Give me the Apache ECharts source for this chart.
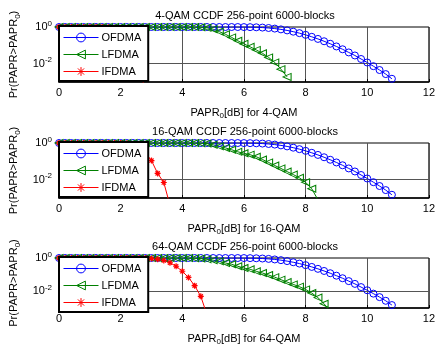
<!DOCTYPE html>
<html><head><meta charset="utf-8">
<script src="https://cdn.jsdelivr.net/npm/echarts@6/dist/echarts.min.js"></script>
<style>html,body{margin:0;padding:0;background:#fff}#c{width:438px;height:347px}</style>
</head><body><div id="c"></div>
<script>
// ---------- data ----------
const seriesNames = ['OFDMA', 'LFDMA', 'IFDMA'];
const panelTitles = ['4-QAM CCDF 256-point 6000-blocks', '16-QAM CCDF 256-point 6000-blocks', '64-QAM CCDF 256-point 6000-blocks'];
const modulations = ['4-QAM', '16-QAM', '64-QAM'];
const xTickValues = [0, 2, 4, 6, 8, 10, 12];
const yTickValues = [1, 0.01];

// OFDMA (same in all three panels)
const ofdmaX = [0,0.2,0.4,0.6,0.8,1,1.2,1.4,1.6,1.8,2,2.2,2.4,2.6,2.8,3,3.2,3.4,3.6,3.8,4,4.2,4.4,4.6,4.8,5,5.2,5.4,5.6,5.8,6,6.2,6.4,6.6,6.8,7,7.2,7.4,7.6,7.8,8,8.2,8.4,8.6,8.8,9,9.2,9.4,9.6,9.8,10,10.2,10.4,10.6,10.8];
const ofdmaY = [1,1,1,1,1,1,1,1,1,1,1,1,1,1,1,1,1,1,1,1,1,1,1,1,1,1,1,1,0.999,0.997,0.992,0.981,0.962,0.93,0.883,0.819,0.741,0.651,0.556,0.462,0.373,0.292,0.224,0.167,0.122,0.087,0.061,0.041,0.028,0.018,0.0116,0.0073,0.0045,0.0027,0.0015];

// LFDMA
const lfdma4X = [0,0.2,0.4,0.6,0.8,1,1.2,1.4,1.6,1.8,2,2.2,2.4,2.6,2.8,3,3.2,3.4,3.6,3.8,4,4.2,4.4,4.6,4.8,5,5.2,5.4,5.6,5.8,6,6.2,6.4,6.6,6.8,7,7.2,7.4];
const lfdma4Y = [1,1,1,1,1,1,1,1,1,1,1,1,1,1,1,1,1,1,1,1,1,1,1,0.97,0.9,0.76,0.56,0.4,0.27,0.178,0.12,0.083,0.056,0.037,0.022,0.0117,0.005,0.0019];
const lfdma16X = [0,0.2,0.4,0.6,0.8,1,1.2,1.4,1.6,1.8,2,2.2,2.4,2.6,2.8,3,3.2,3.4,3.6,3.8,4,4.2,4.4,4.6,4.8,5,5.2,5.4,5.6,5.8,6,6.2,6.4,6.6,6.8,7,7.2,7.4,7.6,7.8,8,8.2,8.4];
const lfdma16Y = [1,1,1,1,1,1,1,1,1,1,1,1,1,1,1,1,1,1,1,1,1,1,1,0.98,0.94,0.8,0.66,0.54,0.43,0.33,0.275,0.23,0.178,0.126,0.087,0.059,0.041,0.0275,0.019,0.0126,0.0072,0.0032,0.0008];
const lfdma64X = [0,0.2,0.4,0.6,0.8,1,1.2,1.4,1.6,1.8,2,2.2,2.4,2.6,2.8,3,3.2,3.4,3.6,3.8,4,4.2,4.4,4.6,4.8,5,5.2,5.4,5.6,5.8,6,6.2,6.4,6.6,6.8,7,7.2,7.4,7.6,7.8,8,8.2,8.4,8.6,8.8];
const lfdma64Y = [1,1,1,1,1,1,1,1,1,1,1,1,1,1,1,1,1,1,1,1,1,1,0.97,0.93,0.83,0.74,0.63,0.5,0.42,0.32,0.25,0.21,0.158,0.126,0.095,0.071,0.05,0.036,0.026,0.019,0.013,0.0079,0.0042,0.0018,0.0006];

// IFDMA
const ifdma4X = [0,0.2,0.4,0.6,0.8,1,1.2,1.4,1.6,1.8,2,2.2,2.4,2.6,2.8];
const ifdma4Y = [1,1,1,1,1,1,1,1,0.98,0.9,0.6,0.25,0.05,0.005,0.0004];
const ifdma16X = [0,0.2,0.4,0.6,0.8,1,1.2,1.4,1.6,1.8,2,2.2,2.4,2.6,2.8,3,3.2,3.4,3.6];
const ifdma16Y = [1,1,1,1,1,1,1,1,1,1,1,0.97,0.85,0.6,0.3,0.11,0.022,0.007,0.0004];
const ifdma64X = [0,0.2,0.4,0.6,0.8,1,1.2,1.4,1.6,1.8,2,2.2,2.4,2.6,2.8,3,3.2,3.4,3.6,3.8,4,4.2,4.4,4.6,4.8];
const ifdma64Y = [1,1,1,1,1,1,1,1,1,1,1,1,1,1,1,0.93,0.83,0.71,0.52,0.32,0.16,0.068,0.022,0.005,0.0004];

// ---------- build ----------
const FONT = '"Liberation Sans", Arial, Helvetica, sans-serif';
const LEFT = 59, RIGHT = 7, HEIGHT = 55;
const tops = [27, 143, 258];
const colors = { OFDMA: '#0000ff', LFDMA: '#008000', IFDMA: '#ff0000' };
const STAR = 'path://M-10,0L10,0M0,-10L0,10M-7,-7L7,7M-7,7L7,-7';

function zip(xs, ys) { return xs.map((x, i) => [x, ys[i]]); }

const panelData = [
  [zip(ofdmaX, ofdmaY), zip(lfdma4X, lfdma4Y), zip(ifdma4X, ifdma4Y)],
  [zip(ofdmaX, ofdmaY), zip(lfdma16X, lfdma16Y), zip(ifdma16X, ifdma16Y)],
  [zip(ofdmaX, ofdmaY), zip(lfdma64X, lfdma64Y), zip(ifdma64X, ifdma64Y)]
];

const rich = {
  b: { fontSize: 11, color: '#000', fontFamily: FONT },
  sup: { fontSize: 8, color: '#000', fontFamily: FONT, padding: [0, 0, 7, 0] },
  sub: { fontSize: 8, color: '#000', fontFamily: FONT, padding: [7, 0, 0, 0] }
};

const series = [];
panelData.forEach((pd, i) => {
  series.push({
    name: 'OFDMA', type: 'line', xAxisIndex: i, yAxisIndex: i, data: pd[0],
    symbol: 'circle', symbolSize: 7,
    lineStyle: { color: colors.OFDMA, width: 1 },
    itemStyle: { color: 'rgba(0,0,0,0)', borderColor: colors.OFDMA, borderWidth: 1 },
    emphasis: { disabled: true }, z: 3,
    markLine: {
      silent: true, symbol: 'none', z: 1, animation: false,
      label: { show: false },
      lineStyle: { color: '#555', width: 1, type: 'solid' },
      data: [{ yAxis: 0.01 }]
    }
  });
  series.push({
    name: 'LFDMA', type: 'line', xAxisIndex: i, yAxisIndex: i, data: pd[1],
    symbol: 'triangle', symbolSize: [7, 8], symbolRotate: 90,
    lineStyle: { color: colors.LFDMA, width: 1 },
    itemStyle: { color: 'rgba(0,0,0,0)', borderColor: colors.LFDMA, borderWidth: 1 },
    emphasis: { disabled: true }, z: 3
  });
  series.push({
    name: 'IFDMA', type: 'line', xAxisIndex: i, yAxisIndex: i, data: pd[2],
    symbol: STAR, symbolSize: 6,
    lineStyle: { color: colors.IFDMA, width: 1 },
    itemStyle: { color: colors.IFDMA, borderColor: colors.IFDMA, borderWidth: 1.2 },
    emphasis: { disabled: true }, z: 3
  });
});

const option = {
  animation: false,
  backgroundColor: '#fff',
  textStyle: { fontFamily: FONT },
  title: tops.map((t, i) => ({
    text: panelTitles[i], left: 245, top: t - 16.5, textAlign: 'center', padding: 0,
    textStyle: { fontSize: 11, fontWeight: 'normal', color: '#000', fontFamily: FONT }
  })),
  grid: tops.map(t => ({
    left: LEFT, right: RIGHT, top: t, height: HEIGHT,
    show: true, borderColor: '#000', borderWidth: 1, backgroundColor: '#fff'
  })),
  legend: tops.map(t => ({
    data: seriesNames, orient: 'vertical', left: LEFT, top: t - 1,
    backgroundColor: '#fff', borderColor: '#000', borderWidth: 2,
    padding: [6, 7, 4, 4], itemGap: 6, itemWidth: 35, itemHeight: 11,
    selectedMode: false,
    lineStyle: { width: 1 },
    itemStyle: { borderWidth: 1 },
    textStyle: { fontSize: 11, color: '#000', fontFamily: FONT, padding: [0, 0, 0, -2] }
  })),
  xAxis: tops.map((t, i) => ({
    type: 'value', gridIndex: i, min: xTickValues[0], max: xTickValues[xTickValues.length - 1], interval: 2,
    name: '{b|PAPR}{sub|0}{b|[dB] for ' + modulations[i] + '}',
    nameLocation: 'middle', nameGap: 23,
    nameTextStyle: { rich: rich },
    axisLine: { lineStyle: { color: '#000', width: 1.5 } },
    axisTick: { inside: true, length: 3, lineStyle: { color: '#000' } },
    axisLabel: { fontSize: 11, color: '#000', margin: 5, fontFamily: FONT },
    splitLine: { show: true, lineStyle: { color: '#555', width: 1 } }
  })),
  yAxis: tops.map((t, i) => ({
    type: 'log', gridIndex: i, min: 0.001, max: 1, logBase: 10,
    name: '{b|Pr(PAPR>PAPR}{sub|0}{b|)}',
    nameLocation: 'middle', nameGap: 37, nameRotate: 90,
    nameTextStyle: { rich: rich },
    axisLine: { lineStyle: { color: '#000', width: 1.5 } },
    axisTick: { show: false },
    axisLabel: {
      margin: 7,
      formatter: function (v) {
        const e = Math.round(Math.log10(v));
        const hit = yTickValues.some(tv => Math.abs(Math.log10(tv) - e) < 1e-6);
        return hit ? '{b|10}{sup|' + e + '}' : '';
      },
      rich: rich
    },
    splitLine: { show: false }
  })),
  series: series
};

const chart = echarts.init(document.getElementById('c'), null, { renderer: 'canvas' });
chart.setOption(option);
</script>
</body></html>
